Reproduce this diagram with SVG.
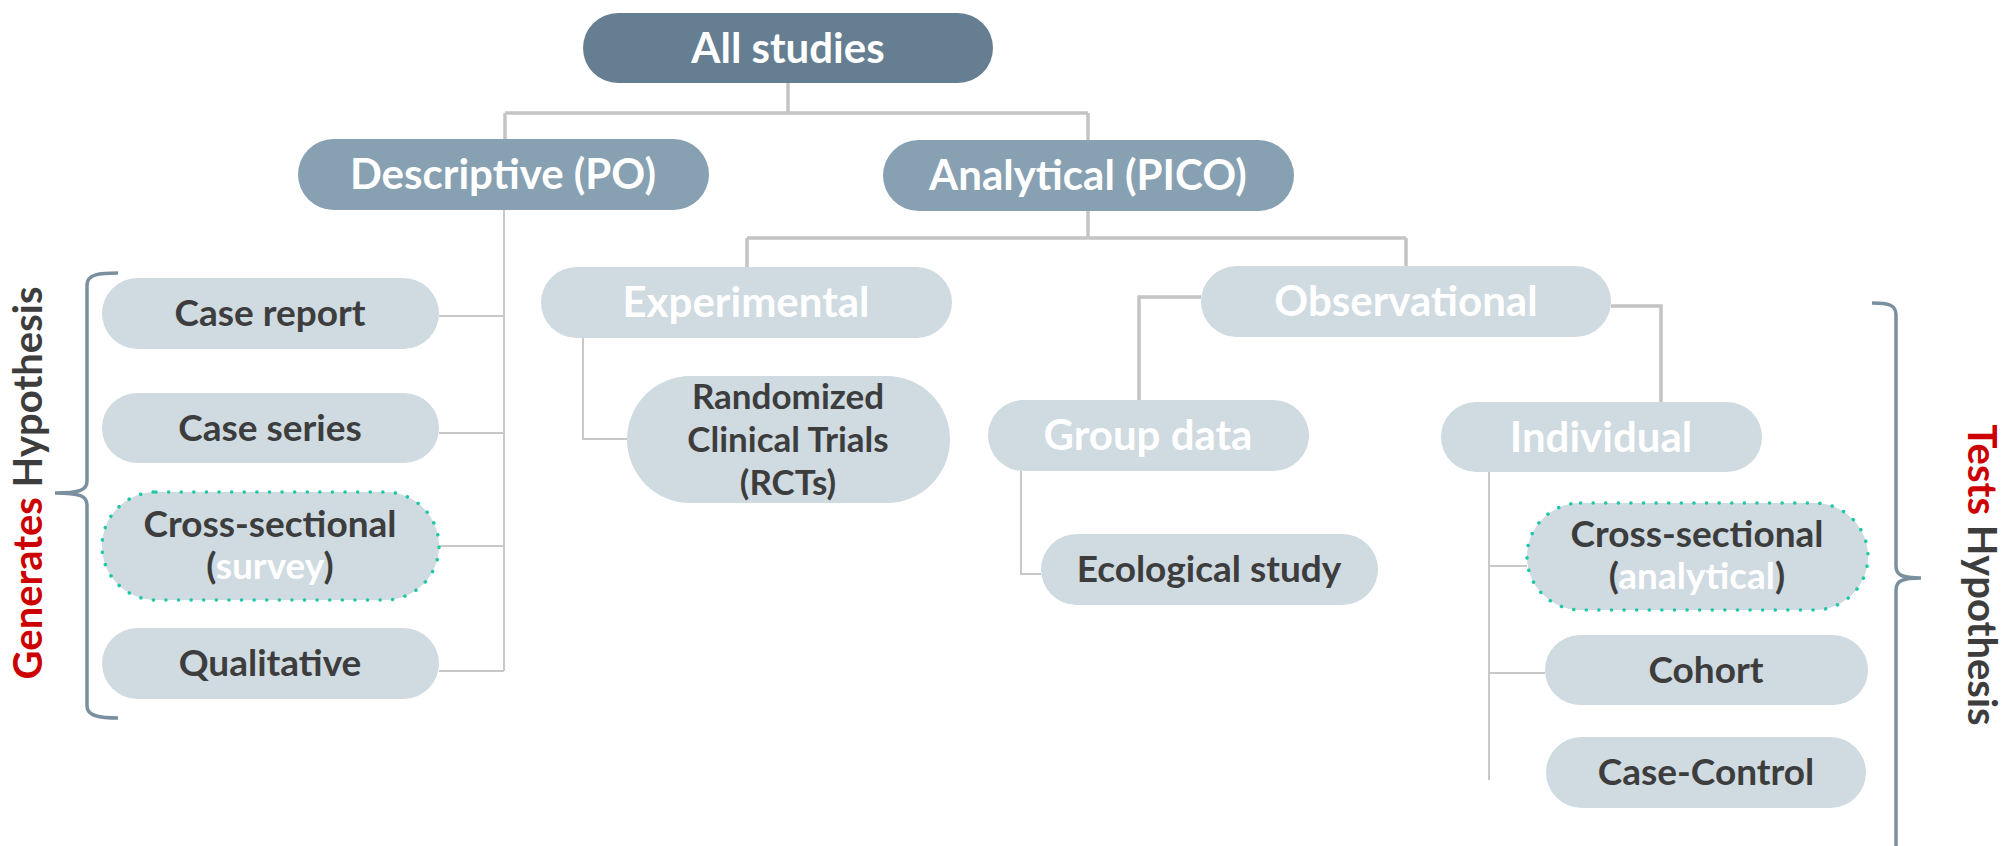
<svg xmlns="http://www.w3.org/2000/svg" width="2007" height="846" viewBox="0 0 2007 846">
<style>
.top{fill:#667e92}
.mid{fill:#87a0b2}
.lt{fill:#cfdae1}
.dot{fill:#cfdae1;stroke:#1ec8a5;stroke-width:3.5;stroke-dasharray:0.1 12.5;stroke-linecap:round}
.tw{font-family:Lato,"Liberation Sans",sans-serif;font-weight:700;font-size:42px;fill:#ffffff;text-anchor:middle}
.td{font-family:Lato,"Liberation Sans",sans-serif;font-weight:700;font-size:37px;fill:#3d3d3d;text-anchor:middle}
.rct{font-size:35px}
.wh{fill:#ffffff}
.c1{fill:none;stroke:#c4c4c4;stroke-width:3.5}
.c2{fill:none;stroke:#c8c8c8;stroke-width:2}
.br{fill:none;stroke:#7b909f;stroke-width:3.5}
.side{font-family:Lato,"Liberation Sans",sans-serif;font-weight:700;font-size:40px;fill:#3d3d3d;text-anchor:middle}
.red{fill:#cc0000}
</style>
<g id="connectors">
<path class="c1" d="M788,83 V113 M505,113 H1088 M505,113 V139 M1088,113 V140"/>
<path class="c2" d="M504,210 V671 M439,316 H504 M439,433 H504 M439,546 H504 M439,671 H504"/>
<path class="c1" d="M1088,211 V238 M747,238 H1406 M747,238 V267 M1406,238 V266"/>
<path class="c2" d="M583,338 V439 H627"/>
<path class="c1" d="M1201,297 H1139 V400 M1611,306 H1661 V402"/>
<path class="c2" d="M1021,471 V574 H1041"/>
<path class="c2" d="M1489,472 V780 M1489,566 H1527 M1489,673 H1545"/>
</g>
<g id="n-all"><rect class="top" x="583" y="13" width="410" height="70" rx="35"/><text class="tw" x="788" y="63">All studies</text></g>
<g id="n-desc"><rect class="mid" x="298" y="139" width="411" height="71" rx="35.5"/><text class="tw" x="503" y="189">Descriptive (PO)</text></g>
<g id="n-anal"><rect class="mid" x="883" y="140" width="411" height="71" rx="35.5"/><text class="tw" x="1088" y="190">Analytical (PICO)</text></g>
<g id="n-case-report"><rect class="lt" x="102" y="278" width="337" height="71" rx="35.5"/><text class="td" x="270" y="326">Case report</text></g>
<g id="n-case-series"><rect class="lt" x="102" y="393" width="337" height="70" rx="35"/><text class="td" x="270" y="441">Case series</text></g>
<g id="n-cross-survey"><rect class="dot" x="102" y="492" width="337" height="108" rx="54"/><text class="td" x="270" y="537">Cross-sectional</text><text class="td" x="270" y="579">(<tspan class="wh">survey</tspan>)</text></g>
<g id="n-qualitative"><rect class="lt" x="102" y="628" width="337" height="71" rx="35.5"/><text class="td" x="270" y="676">Qualitative</text></g>
<g id="n-experimental"><rect class="lt" x="541" y="267" width="411" height="71" rx="35.5"/><text class="tw" x="746" y="317">Experimental</text></g>
<g id="n-rct"><rect class="lt" x="627" y="376" width="323" height="127" rx="63.5"/><text class="td rct" x="788" y="409">Randomized</text><text class="td rct" x="788" y="452">Clinical Trials</text><text class="td rct" x="788" y="495">(RCTs)</text></g>
<g id="n-observational"><rect class="lt" x="1201" y="266" width="410" height="71" rx="35.5"/><text class="tw" x="1406" y="316">Observational</text></g>
<g id="n-group"><rect class="lt" x="988" y="400" width="321" height="71" rx="35.5"/><text class="tw" x="1148" y="450">Group data</text></g>
<g id="n-ecological"><rect class="lt" x="1041" y="534" width="337" height="71" rx="35.5"/><text class="td" x="1209" y="582">Ecological study</text></g>
<g id="n-individual"><rect class="lt" x="1441" y="402" width="321" height="70" rx="35"/><text class="tw" x="1601" y="452">Individual</text></g>
<g id="n-cross-anal"><rect class="dot" x="1527" y="503" width="341" height="107" rx="53.5"/><text class="td" x="1697" y="547">Cross-sectional</text><text class="td" x="1697" y="589">(<tspan class="wh">analytical</tspan>)</text></g>
<g id="n-cohort"><rect class="lt" x="1545" y="635" width="323" height="70" rx="35"/><text class="td" x="1706" y="683">Cohort</text></g>
<g id="n-casecontrol"><rect class="lt" x="1546" y="737" width="320" height="71" rx="35.5"/><text class="td" x="1706" y="785">Case-Control</text></g>
<g id="brace-left"><path class="br" d="M118,273 C100,273 87,274 87,285 L87,481 C87,490 80,493 55,493 C80,493 87,496 87,505 L87,706 C87,716 100,718 118,718"/><text class="side" transform="translate(42,483) rotate(-90)"><tspan class="red">Generates</tspan> Hypothesis</text></g>
<g id="brace-right"><path class="br" d="M1872,303 C1889,303 1896,305 1896,315 L1896,566 C1896,575 1902,578 1921,578 C1902,578 1896,581 1896,590 L1896,860"/><text class="side" transform="translate(1968,575) rotate(90)"><tspan class="red">Tests</tspan> Hypothesis</text></g>
</svg>
